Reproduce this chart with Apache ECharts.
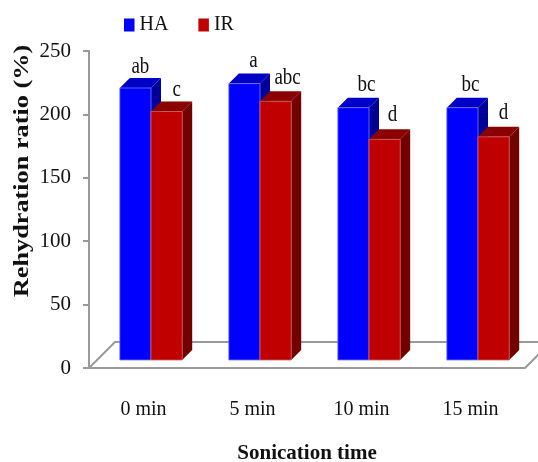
<!DOCTYPE html>
<html><head><meta charset="utf-8">
<style>html,body{margin:0;padding:0;background:#fff}#c{width:538px;height:462px}</style>
<script src="https://cdn.jsdelivr.net/npm/echarts@6/dist/echarts.min.js"></script>
</head><body><div id="c"></div>
<script>
const categories = ['0 min','5 min','10 min','15 min'];
const haValues = [214.5,218,199,199];
const irValues = [196,204,174,176];
const haLetters = ['ab','a','bc','bc'];
const irLetters = ['c','abc','d','d'];
const yTicks = {min:0,max:250,interval:50};
const yTitle = 'Rehydration ratio (%)';
const xTitle = 'Sonication time';

// Hand placement of the significance letters, relative to their bars.
const haNudgeX = [1,5,9,4], haNudgeY = [1,-1,-1,-1];
const irNudgeX = [6,8,4,6], irNudgeY = [0,-2,-3,-2];

const serif = '"Liberation Serif","Times New Roman",serif';
const GRAY = '#9a9a9a';
const DEPTH = 10, LIFT = 8, SHIFT = 7.5, BAR = 31.2;

function barRenderer(side, letters, nx, ny, front, top, flank, edge) {
  return function (params, api) {
    const i = api.value(0), v = api.value(1);
    const p = api.coord([i, v]), b = api.coord([i, 0]);
    const x0 = p[0] + SHIFT + (side === 0 ? -BAR : 0), x1 = x0 + BAR;
    const yt = p[1] - LIFT, yb = b[1] - LIFT;
    const st = {lineWidth: 0.8, stroke: edge};
    return {type:'group', children:[
      {type:'polygon', shape:{points:[[x1,yt],[x1+DEPTH,yt-DEPTH],[x1+DEPTH,yb-DEPTH],[x1,yb]]}, style:{fill:flank}},
      {type:'polygon', shape:{points:[[x0,yt],[x0+DEPTH,yt-DEPTH],[x1+DEPTH,yt-DEPTH],[x1,yt]]}, style:{fill:top}},
      {type:'rect', shape:{x:x0,y:yt,width:BAR,height:yb-yt}, style:Object.assign({fill:front}, st)},
      {type:'text', x:(x0+x1)/2+DEPTH/2-1+nx[i], y:yt-DEPTH-12+ny[i], scaleY:1.25,
        style:{text:letters[i], fontFamily:serif, fontSize:19, fill:'#111', align:'center', verticalAlign:'middle'}}
    ]};
  };
}
function floorRenderer(params, api) {
  const half = api.size([1,0])[0] / 2;
  const a = api.coord([0, 0]), b = api.coord([3, 0]);
  const d = 26;
  const l = a[0] - half, r = b[0] + half;
  return {type:'polyline', shape:{points:[[l,a[1]],[l+d,a[1]-d],[r+d,a[1]-d],[r,a[1]]]},
    style:{fill:'none', stroke:GRAY, lineWidth:2}};
}
const chart = echarts.init(document.getElementById('c'), null, {renderer:'canvas'});
chart.setOption({
  animation:false,
  backgroundColor:'#fff',
  legend:{data:['HA','IR'], left:119, top:10, icon:'rect', itemWidth:10.5, itemHeight:13, itemGap:30,
    selectedMode:false, textStyle:{fontFamily:serif, fontSize:20, color:'#111'}},
  grid:{left:89, top:51, width:436, height:317, outerBoundsMode:'none', containLabel:false},
  xAxis:{type:'category', data:categories, boundaryGap:true,
    axisLine:{show:true, lineStyle:{color:GRAY,width:2}}, axisTick:{show:false},
    axisLabel:{fontFamily:serif, fontSize:20, color:'#111', margin:32},
    name:xTitle, nameLocation:'middle', nameGap:75,
    nameTextStyle:{fontFamily:serif, fontSize:21, fontWeight:'bold', color:'#111'}},
  yAxis:{type:'value', min:yTicks.min, max:yTicks.max, interval:yTicks.interval,
    axisLine:{show:true, lineStyle:{color:GRAY,width:2}},
    axisTick:{show:true, length:6, lineStyle:{color:GRAY,width:2}},
    splitLine:{show:false},
    axisLabel:{fontFamily:serif, fontSize:21, color:'#111', margin:18}},
  graphic:[{type:'text', x:23, y:171, rotation:Math.PI/2, scaleX:1.25, scaleY:1,
    style:{text:yTitle, fontFamily:serif, fontSize:21, fontWeight:'bold', fill:'#111', align:'center', verticalAlign:'middle'}}],
  series:[
    {type:'custom', name:'floor', silent:true, clip:false, data:[[0,0]], renderItem:floorRenderer, z:1},
    {type:'custom', name:'HA', clip:false, z:2, itemStyle:{color:'#0000ff'},
      data:haValues.map((v,i)=>[i,v]), encode:{x:0,y:1},
      renderItem:barRenderer(0,haLetters,haNudgeX,haNudgeY,'#0000ff','#0000c8','#000099','#7a7aff')},
    {type:'custom', name:'IR', clip:false, z:3, itemStyle:{color:'#c00000'},
      data:irValues.map((v,i)=>[i,v]), encode:{x:0,y:1},
      renderItem:barRenderer(1,irLetters,irNudgeX,irNudgeY,'#c00000','#8b0000','#730000','#d06060')}
  ]
});
</script></body></html>
